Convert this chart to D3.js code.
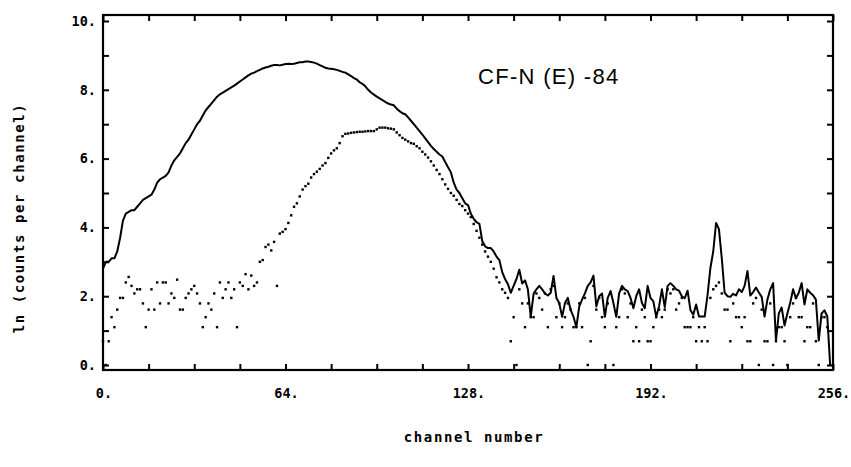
<!DOCTYPE html>
<html><head><meta charset="utf-8">
<script src="https://cdn.jsdelivr.net/npm/d3@7"></script>
<style>body{margin:0;background:#fff}</style>
</head><body><svg id="c" width="851" height="467"></svg>
<script>
// ln(counts per channel), solid spectrum, channels 0..255
const solid = [
2.8,3.0,3.0,3.1,3.1,3.3,3.7,4.2,4.4,4.45,
4.5,4.5,4.6,4.7,4.8,4.85,4.9,4.95,5.1,5.3,
5.4,5.45,5.5,5.6,5.8,5.95,6.05,6.15,6.3,6.45,
6.55,6.7,6.85,7.0,7.1,7.25,7.4,7.5,7.6,7.7,
7.8,7.87,7.92,7.97,8.02,8.07,8.12,8.18,8.24,8.3,
8.36,8.42,8.47,8.5,8.54,8.58,8.62,8.65,8.67,8.7,
8.72,8.72,8.71,8.73,8.75,8.76,8.75,8.76,8.78,8.8,
8.8,8.82,8.82,8.81,8.79,8.76,8.72,8.68,8.64,8.62,
8.61,8.6,8.58,8.55,8.52,8.5,8.45,8.4,8.34,8.3,
8.22,8.17,8.1,8.0,7.92,7.86,7.8,7.75,7.7,7.65,
7.6,7.57,7.55,7.45,7.38,7.32,7.29,7.2,7.1,7.0,
6.9,6.8,6.7,6.59,6.48,6.37,6.28,6.2,6.12,6.06,
5.9,5.75,5.6,5.3,5.1,5.0,4.85,4.7,4.65,4.4,
4.25,4.15,4.1,3.6,3.45,3.4,3.4,3.3,3.15,3.05,
2.7,2.5,2.35,2.1,2.3,2.5,2.77,2.37,2.46,2.2,
1.4,2.07,2.2,2.3,2.2,2.08,2.02,2.1,2.59,1.95,
1.8,1.4,1.8,1.95,1.6,1.4,1.1,1.7,1.9,2.08,
2.3,2.4,2.6,1.7,2.0,2.08,1.4,1.95,2.15,1.8,
1.4,2.08,2.3,2.2,2.15,1.95,1.65,2.0,2.2,1.8,
1.65,2.3,1.95,1.85,1.4,1.7,2.2,1.68,2.3,2.38,
2.3,2.2,2.16,2.0,1.94,2.16,1.6,1.46,1.76,1.41,
1.41,1.41,2.03,2.82,3.3,4.13,3.95,3.1,2.1,2.0,
1.98,2.07,2.02,2.2,2.12,2.3,2.73,2.02,2.12,2.25,
2.11,1.98,1.41,1.9,2.2,2.38,0.71,1.5,1.67,1.15,
1.5,1.81,2.2,1.94,2.1,2.38,1.76,2.2,2.1,2.03,
1.9,0.71,1.5,1.59,1.41,0.0
];
// ln(counts per channel), dotted spectrum, channels 0..255
const dotted = [
0.69,0.0,0.69,1.39,1.1,1.61,1.95,1.95,2.4,2.56,
2.3,2.08,2.2,2.2,1.79,1.1,1.61,2.2,1.61,2.4,
1.79,2.4,2.4,1.79,2.08,1.95,2.48,1.61,1.61,1.95,
2.08,2.2,2.3,2.08,1.79,1.1,1.39,1.79,1.61,2.08,
1.1,2.4,1.95,2.2,2.4,1.95,2.2,1.1,2.4,2.3,
2.64,2.2,2.6,2.3,2.4,3.0,3.05,3.43,3.5,3.33,
3.58,2.3,3.82,3.87,3.95,4.13,4.35,4.6,4.7,4.9,
5.1,5.2,5.27,5.45,5.55,5.62,5.7,5.8,5.87,6.02,
6.15,6.24,6.3,6.45,6.65,6.72,6.73,6.75,6.76,6.77,
6.78,6.78,6.79,6.8,6.8,6.8,6.85,6.9,6.9,6.9,
6.88,6.87,6.85,6.76,6.68,6.6,6.55,6.5,6.45,6.43,
6.36,6.3,6.2,6.12,6.03,5.92,5.8,5.67,5.55,5.4,
5.25,5.12,5.0,4.92,4.8,4.68,4.62,4.5,4.4,4.3,
4.1,3.9,3.7,3.5,3.3,3.15,3.0,2.8,2.55,2.4,
2.2,2.1,1.95,0.69,1.39,0.0,2.2,1.79,1.1,1.79,
1.39,1.39,2.08,1.95,1.61,2.08,1.1,2.2,2.3,1.39,
1.79,1.1,1.39,1.79,1.61,1.1,1.1,1.79,1.1,1.95,
0.0,0.69,2.3,1.61,1.95,1.39,1.1,1.79,2.08,0.0,
1.1,1.39,2.2,2.08,1.39,1.79,0.69,1.1,0.69,1.61,
1.39,0.69,0.69,1.1,1.39,1.61,1.39,1.61,2.2,2.08,
2.2,1.61,1.79,1.95,1.1,1.1,1.1,1.39,0.69,1.1,
0.69,1.1,0.69,1.95,2.2,2.3,2.4,2.08,1.61,1.61,
0.69,1.79,1.39,1.39,1.1,1.39,0.69,0.69,1.79,1.95,
0.0,1.61,0.69,0.69,1.79,0.0,0.69,1.1,1.1,0.69,
0.0,1.39,1.79,1.95,1.39,1.39,0.69,1.1,1.1,1.79,
0.69,0.0,1.39,1.39,1.1,0.0
];
const xMajorTicks = [0,64,128,192,256];
const xTickLabels = ["0.","64.","128.","192.","256."];
const yMajorTicks = [0,2,4,6,8,10];
const yTickLabels = ["0.","2.","4.","6.","8.","10."];
const xTitle = "channel number";
const yTitle = "ln (counts per channel)";
const annotation = "CF-N (E) -84";

const svg = d3.select("#c");
const frame = {left:103, right:833, top:15, bottom:370};
const x = d3.scaleLinear().domain([0,256]).range([frame.left, frame.right]);
const y = d3.scaleLinear().domain([0,10]).range([frame.bottom-5, frame.top+6]);
const ch = d3.range(solid.length);

// ticks (inward) on all four sides
const xt = d3.range(0,257,16), yt = d3.range(0,11,1);
const tickG = svg.append("g");
tickG.append("g").attr("transform",`translate(0,${frame.bottom})`)
  .call(d3.axisBottom(x).tickValues(xt).tickSize(-6).tickFormat(""));
tickG.append("g").attr("transform",`translate(0,${frame.top})`)
  .call(d3.axisTop(x).tickValues(xt).tickSize(-6).tickFormat(""));
tickG.append("g").attr("transform",`translate(${frame.left},0)`)
  .call(d3.axisLeft(y).tickValues(yt).tickSize(-6).tickFormat(""));
tickG.append("g").attr("transform",`translate(${frame.right},0)`)
  .call(d3.axisRight(y).tickValues(yt).tickSize(-6).tickFormat(""));
svg.selectAll(".domain").remove();
svg.selectAll(".tick line").attr("stroke","#000").attr("stroke-width",2);

svg.append("rect").attr("x",frame.left).attr("y",frame.top)
  .attr("width",frame.right-frame.left).attr("height",frame.bottom-frame.top)
  .attr("fill","none").attr("stroke","#000").attr("stroke-width",2.2);

// tick labels
svg.append("g").selectAll("text").data(xMajorTicks).join("text")
  .attr("x",d=>x(d)+1).attr("y",frame.bottom+28).attr("text-anchor","middle")
  .attr("font-family","DejaVu Sans Mono").attr("font-weight","bold").attr("font-size","13.5px")
  .text((d,i)=>xTickLabels[i]);
svg.append("g").selectAll("text").data(yMajorTicks).join("text")
  .attr("x",frame.left-7).attr("y",d=>y(d)).attr("dy","0.35em").attr("text-anchor","end")
  .attr("font-family","DejaVu Sans Mono").attr("font-weight","bold").attr("font-size","13.5px")
  .text((d,i)=>yTickLabels[i]);

// axis titles
svg.append("text").attr("x",474).attr("y",442).attr("text-anchor","middle")
  .attr("font-family","DejaVu Sans Mono").attr("font-weight","bold").attr("font-size","14px")
  .attr("letter-spacing","1.6px").text(xTitle);
svg.append("text").attr("transform","translate(24,218) rotate(-90)").attr("text-anchor","middle")
  .attr("font-family","DejaVu Sans Mono").attr("font-weight","bold").attr("font-size","14px")
  .attr("letter-spacing","1.6px").text(yTitle);

// annotation
svg.append("text").attr("x",478).attr("y",84)
  .attr("font-family","Liberation Sans").attr("font-size","22px").attr("letter-spacing","1.3px")
  .text(annotation);

// dotted spectrum
svg.append("g").selectAll("rect").data(ch).join("rect")
  .attr("x",d=>x(d)-1.2).attr("y",d=>y(dotted[d])-1.2)
  .attr("width",2.4).attr("height",2.4).attr("fill","#000");

// solid spectrum
const line = d3.line().x(d=>x(d)).y(d=>y(solid[d]));
svg.append("path").datum(ch).attr("d",line).attr("fill","none")
  .attr("stroke","#000").attr("stroke-width",2).attr("stroke-linejoin","round");
</script></body></html>
